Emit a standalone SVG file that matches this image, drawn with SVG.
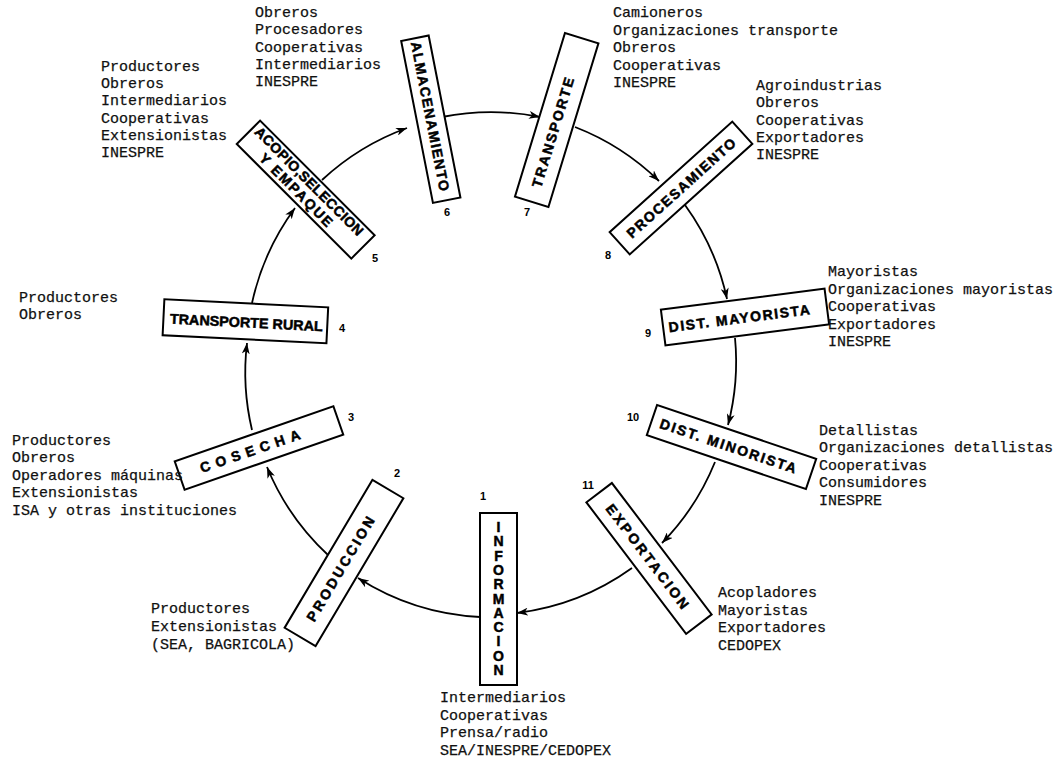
<svg xmlns="http://www.w3.org/2000/svg" width="1058" height="761" viewBox="0 0 1058 761">
<style>
.bg{fill:#fff}
.box{fill:#fff;stroke:#000;stroke-width:2}
.lbl{font-family:"Liberation Sans",Arial,sans-serif;font-weight:bold;font-size:14px;fill:#000;stroke:#000;stroke-width:0.5}
.num{font-family:"Liberation Sans",Arial,sans-serif;font-weight:bold;font-size:11px;fill:#000}
.lst{font-family:"Liberation Mono","Courier New",monospace;font-size:15px;fill:#111;stroke:#111;stroke-width:0.25}
.con{fill:none;stroke:#000;stroke-width:1.8}
</style>
<defs>
<marker id="arr" markerUnits="userSpaceOnUse" markerWidth="12" markerHeight="8" refX="11" refY="4" orient="auto">
<path d="M0,0 L11,4 L0,8 L3,4 z" fill="#000"/>
</marker>
</defs>
<rect class="bg" x="0" y="0" width="1058" height="761"/>

<g id="connectors">
<path class="con" marker-end="url(#arr)" d="M480,617 A250,250 0 0 1 358,578"/>
<path class="con" marker-end="url(#arr)" d="M328,555 A250,250 0 0 1 267,467"/>
<path class="con" marker-end="url(#arr)" d="M252,430 A250,250 0 0 1 247,343"/>
<path class="con" marker-end="url(#arr)" d="M252,303 A250,250 0 0 1 295,208"/>
<path class="con" marker-end="url(#arr)" d="M322,180 A250,250 0 0 1 407,128"/>
<path class="con" marker-end="url(#arr)" d="M442,117 A250,250 0 0 1 540,117"/>
<path class="con" marker-end="url(#arr)" d="M575,127 A250,250 0 0 1 659,181"/>
<path class="con" marker-end="url(#arr)" d="M685,205 A250,250 0 0 1 727,299"/>
<path class="con" marker-end="url(#arr)" d="M735,338 A250,250 0 0 1 728,425"/>
<path class="con" marker-end="url(#arr)" d="M715,462 A250,250 0 0 1 662,543"/>
<path class="con" marker-end="url(#arr)" d="M632,568 A250,250 0 0 1 517,613"/>
</g>

<g id="n1-informacion">
<rect class="box" x="480" y="513" width="37" height="172"/>
<text class="lbl" text-anchor="middle" font-size="13"><tspan x="498.5" y="532">I</tspan><tspan x="498.5" y="546.3">N</tspan><tspan x="498.5" y="560.6">F</tspan><tspan x="498.5" y="574.9">O</tspan><tspan x="498.5" y="589.2">R</tspan><tspan x="498.5" y="603.5">M</tspan><tspan x="498.5" y="617.8">A</tspan><tspan x="498.5" y="632.1">C</tspan><tspan x="498.5" y="646.4">I</tspan><tspan x="498.5" y="660.7">O</tspan><tspan x="498.5" y="675">N</tspan></text>
<text class="num" x="483" y="500" text-anchor="middle">1</text>
<text class="lst" x="440" y="702">Intermediarios</text>
<text class="lst" x="440" y="719.5">Cooperativas</text>
<text class="lst" x="440" y="737">Prensa/radio</text>
<text class="lst" x="440" y="754.5">SEA/INESPRE/CEDOPEX</text>
</g>

<g id="n2-produccion">
<g transform="translate(344,563) rotate(-59.3)">
<rect class="box" x="-86" y="-18" width="172" height="36"/>
<text class="lbl" x="-7" y="5" text-anchor="middle" textLength="119" lengthAdjust="spacing">PRODUCCION</text>
</g>
<text class="num" x="397" y="477" text-anchor="middle">2</text>
<text class="lst" x="151" y="613">Productores</text>
<text class="lst" x="151" y="631">Extensionistas</text>
<text class="lst" x="151" y="649">(SEA, BAGRICOLA)</text>
</g>

<g id="n3-cosecha">
<g transform="translate(259,448) rotate(-19.2)">
<rect class="box" x="-84" y="-15" width="168" height="30"/>
<text class="lbl" x="-9.5" y="5" text-anchor="middle" textLength="105" lengthAdjust="spacing">COSECHA</text>
</g>
<text class="num" x="351" y="421" text-anchor="middle">3</text>
<text class="lst" x="12" y="444.5">Productores</text>
<text class="lst" x="12" y="462">Obreros</text>
<text class="lst" x="12" y="479.5">Operadores máquinas</text>
<text class="lst" x="12" y="497">Extensionistas</text>
<text class="lst" x="12" y="514.5">ISA y otras instituciones</text>
</g>

<g id="n4-transporte-rural">
<g transform="translate(245.4,321.3) rotate(2.8)">
<rect class="box" x="-82" y="-18" width="164" height="36"/>
<text class="lbl" x="1" y="6" font-size="17" text-anchor="middle" textLength="153" lengthAdjust="spacingAndGlyphs">TRANSPORTE RURAL</text>
</g>
<text class="num" x="342" y="332" text-anchor="middle">4</text>
<text class="lst" x="19" y="302">Productores</text>
<text class="lst" x="19" y="319">Obreros</text>
</g>

<g id="n5-acopio">
<g transform="translate(305.7,189.6) rotate(45)">
<rect class="box" x="-81" y="-16.5" width="162" height="33"/>
<text class="lbl" x="-3.5" y="-3.5" font-size="12" stroke-width="0.4" text-anchor="middle" textLength="147" lengthAdjust="spacing">ACOPIO,SELECCION</text>
<text class="lbl" x="-6.5" y="12" font-size="12" stroke-width="0.4" text-anchor="middle" textLength="97" lengthAdjust="spacing">Y EMPAQUE</text>
</g>
<text class="num" x="375" y="262" text-anchor="middle">5</text>
<text class="lst" x="101" y="71">Productores</text>
<text class="lst" x="101" y="88.2">Obreros</text>
<text class="lst" x="101" y="105.4">Intermediarios</text>
<text class="lst" x="101" y="122.6">Cooperativas</text>
<text class="lst" x="101" y="139.8">Extensionistas</text>
<text class="lst" x="101" y="157">INESPRE</text>
</g>

<g id="n6-almacenamiento">
<g transform="translate(430.8,119.2) rotate(78.9)">
<rect class="box" x="-82.5" y="-14" width="165" height="28"/>
<text class="lbl" x="-3" y="5" font-size="13" text-anchor="middle" textLength="152" lengthAdjust="spacing">ALMACENAMIENTO</text>
</g>
<text class="num" x="447" y="216" text-anchor="middle">6</text>
<text class="lst" x="255" y="17">Obreros</text>
<text class="lst" x="255" y="34.3">Procesadores</text>
<text class="lst" x="255" y="51.6">Cooperativas</text>
<text class="lst" x="255" y="68.9">Intermediarios</text>
<text class="lst" x="255" y="86.2">INESPRE</text>
</g>

<g id="n7-transporte">
<g transform="translate(556.7,120) rotate(-73)">
<rect class="box" x="-85.5" y="-17.5" width="171" height="35"/>
<text class="lbl" x="-13" y="5" text-anchor="middle" textLength="114" lengthAdjust="spacing">TRANSPORTE</text>
</g>
<text class="num" x="527" y="216" text-anchor="middle">7</text>
<text class="lst" x="613" y="17">Camioneros</text>
<text class="lst" x="613" y="34.5">Organizaciones transporte</text>
<text class="lst" x="613" y="52">Obreros</text>
<text class="lst" x="613" y="69.5">Cooperativas</text>
<text class="lst" x="613" y="87">INESPRE</text>
</g>

<g id="n8-procesamiento">
<g transform="translate(681,188) rotate(-42)">
<rect class="box" x="-82.5" y="-15" width="165" height="30"/>
<text class="lbl" x="0" y="5" text-anchor="middle" textLength="141" lengthAdjust="spacing">PROCESAMIENTO</text>
</g>
<text class="num" x="608" y="259" text-anchor="middle">8</text>
<text class="lst" x="756" y="90">Agroindustrias</text>
<text class="lst" x="756" y="107.3">Obreros</text>
<text class="lst" x="756" y="124.6">Cooperativas</text>
<text class="lst" x="756" y="141.9">Exportadores</text>
<text class="lst" x="756" y="159.2">INESPRE</text>
</g>

<g id="n9-dist-mayorista">
<g transform="translate(745,317) rotate(-7.3)">
<rect class="box" x="-82.5" y="-18" width="165" height="36"/>
<text class="lbl" x="-6" y="5.5" font-size="15" text-anchor="middle" textLength="142" lengthAdjust="spacing">DIST. MAYORISTA</text>
</g>
<text class="num" x="648" y="337" text-anchor="middle">9</text>
<text class="lst" x="828" y="276">Mayoristas</text>
<text class="lst" x="828" y="293.5">Organizaciones mayoristas</text>
<text class="lst" x="828" y="311">Cooperativas</text>
<text class="lst" x="828" y="328.5">Exportadores</text>
<text class="lst" x="828" y="346">INESPRE</text>
</g>

<g id="n10-dist-minorista">
<g transform="translate(731.5,447) rotate(18.7)">
<rect class="box" x="-84" y="-16" width="168" height="32"/>
<text class="lbl" x="-3.5" y="5" text-anchor="middle" textLength="143" lengthAdjust="spacing">DIST.  MINORISTA</text>
</g>
<text class="num" x="633" y="421" text-anchor="middle">10</text>
<text class="lst" x="819" y="434.5">Detallistas</text>
<text class="lst" x="819" y="452">Organizaciones detallistas</text>
<text class="lst" x="819" y="469.5">Cooperativas</text>
<text class="lst" x="819" y="487">Consumidores</text>
<text class="lst" x="819" y="504.5">INESPRE</text>
</g>

<g id="n11-exportacion">
<g transform="translate(649,558.4) rotate(52.8)">
<rect class="box" x="-82.5" y="-16" width="165" height="32"/>
<text class="lbl" x="-2.5" y="5" text-anchor="middle" textLength="127" lengthAdjust="spacing">EXPORTACION</text>
</g>
<text class="num" x="588" y="489" text-anchor="middle">11</text>
<text class="lst" x="718" y="597">Acopladores</text>
<text class="lst" x="718" y="614.5">Mayoristas</text>
<text class="lst" x="718" y="632">Exportadores</text>
<text class="lst" x="718" y="649.5">CEDOPEX</text>
</g>
</svg>
